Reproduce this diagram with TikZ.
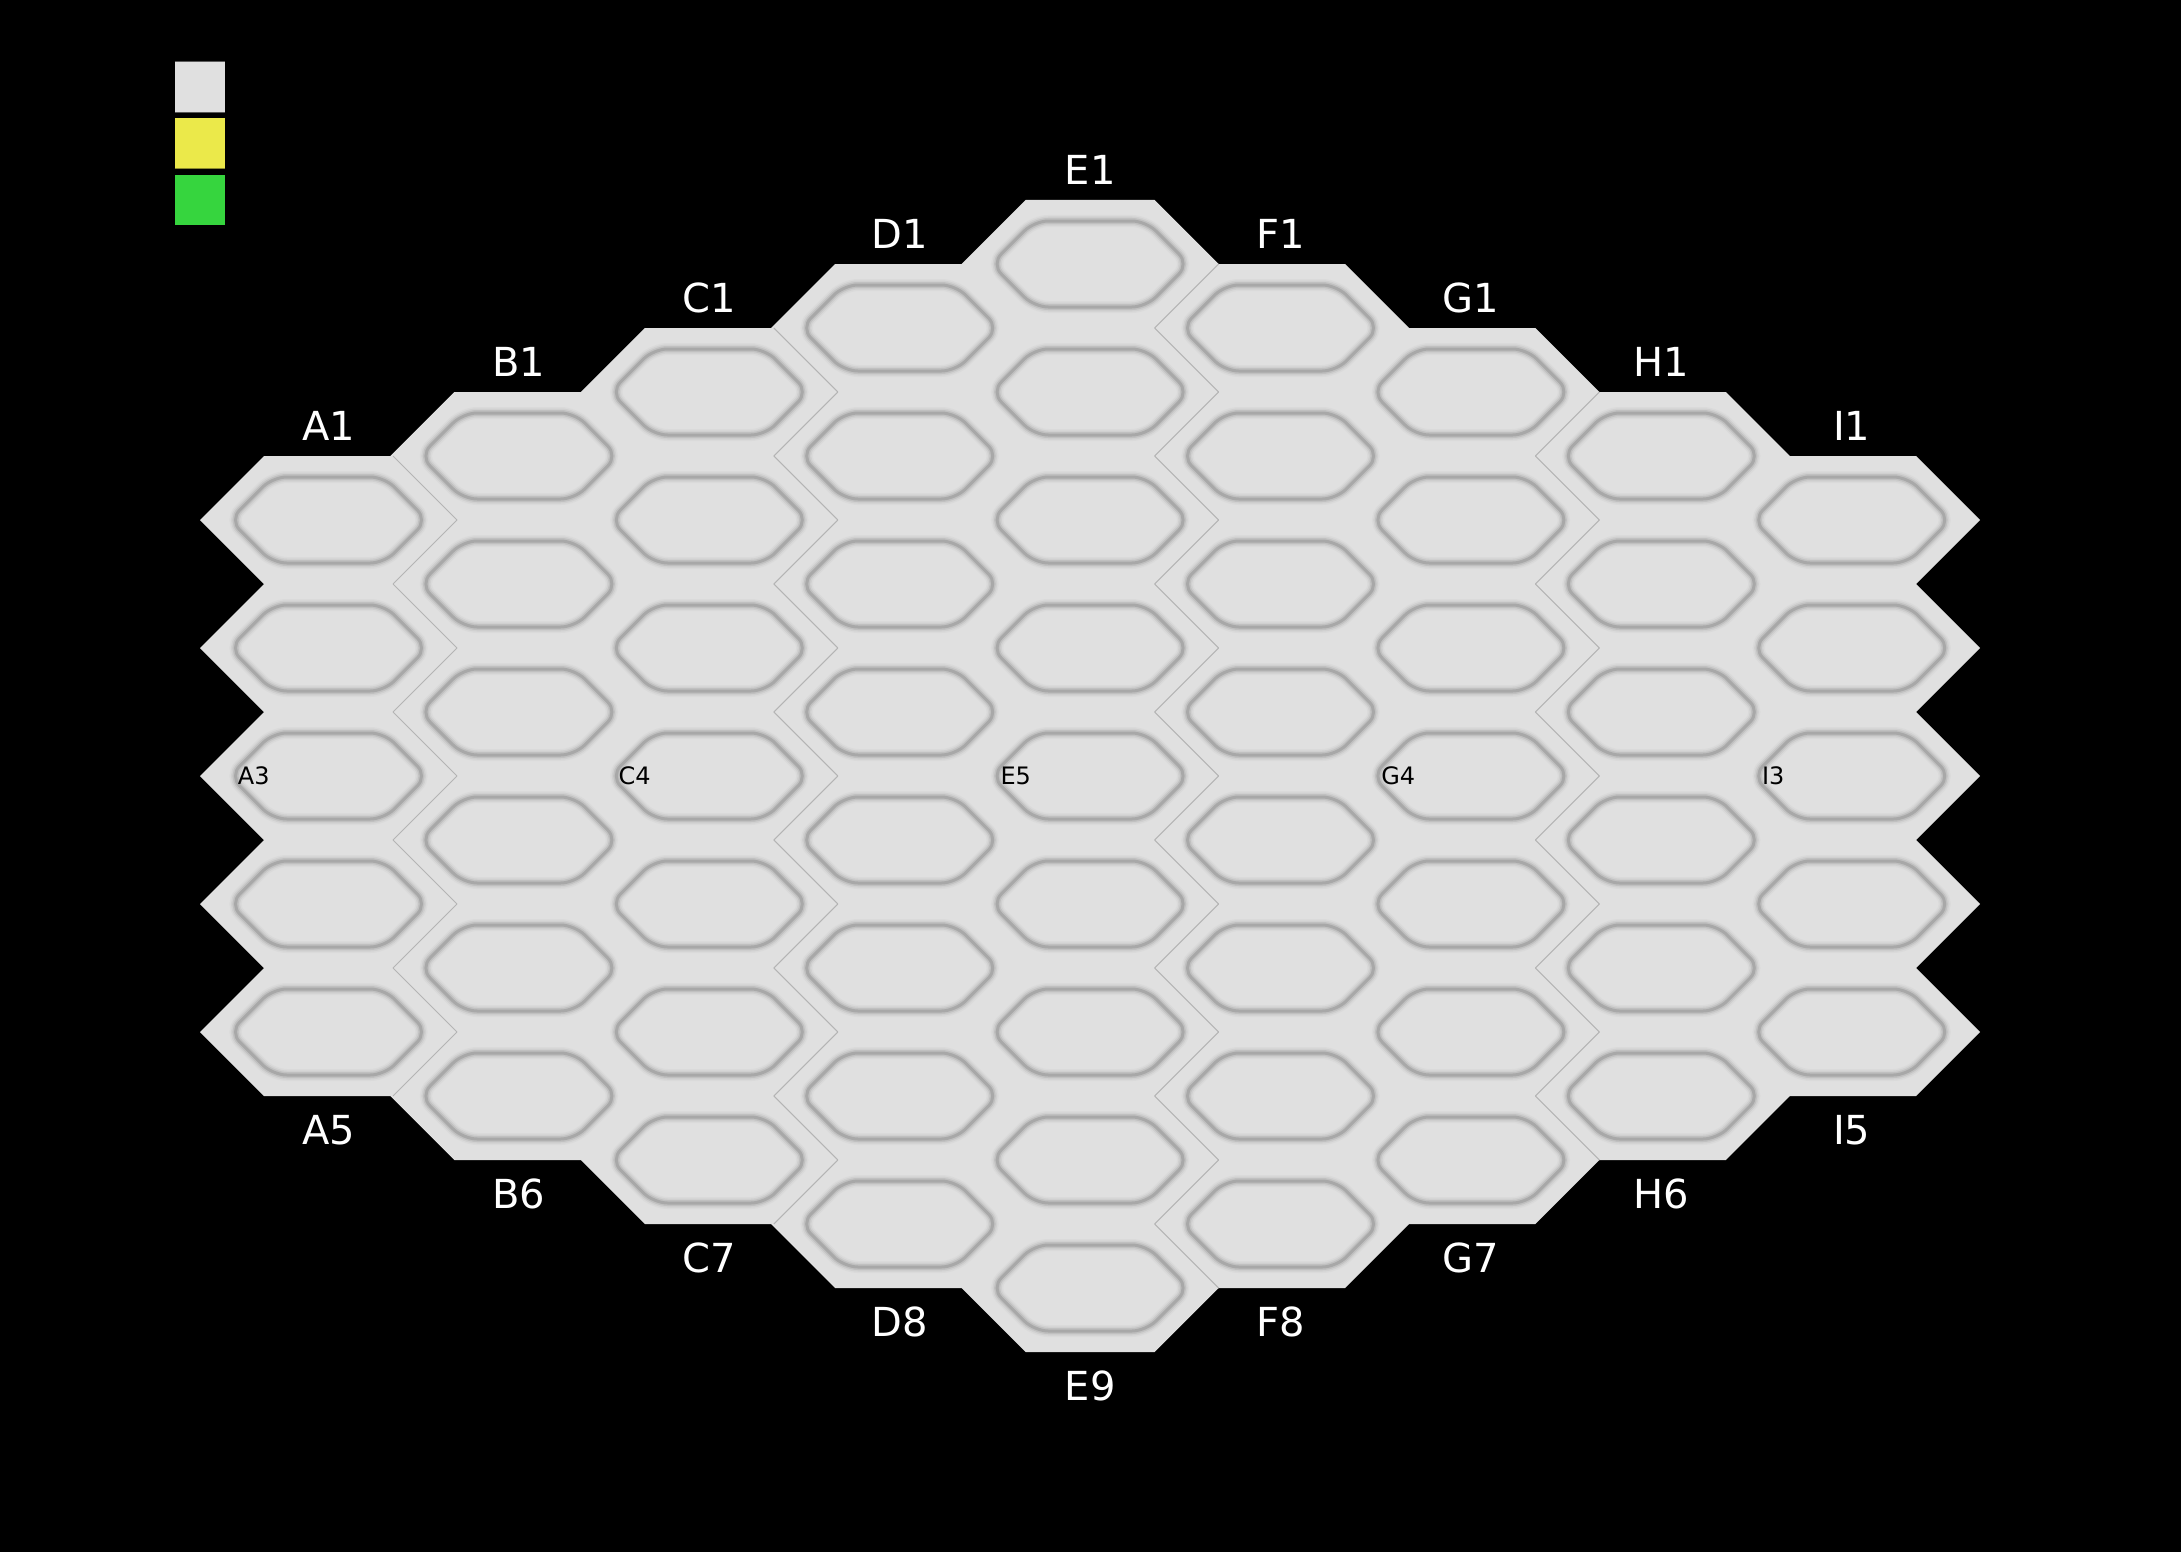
\documentclass[tikz,border=0pt]{standalone}
\usepackage{fontspec}
\setmainfont{DejaVu Sans}
\definecolor{hexfill}{HTML}{E0E0E0}
\definecolor{ring0}{HTML}{DADADA}
\definecolor{ringA}{HTML}{D0D0D0}
\definecolor{ringB}{HTML}{C0C0C0}
\definecolor{ringC}{HTML}{A8A8A8}
\definecolor{seam}{HTML}{B4B4B4}
\definecolor{leggray}{HTML}{E0E0E0}
\definecolor{legyellow}{HTML}{EBE94A}
\definecolor{leggreen}{HTML}{36D53E}
\tikzset{
  biglabel/.style={text=white, inner sep=0pt, font=\fontsize{20}{20}\selectfont},
  smalllabel/.style={text=black, inner sep=0pt, anchor=west, font=\fontsize{12}{12}\selectfont},
  legendbox/.style={minimum width=25pt, minimum height=25pt, inner sep=0pt, draw=none},
  seamline/.style={draw=seam, line width=0.5pt},
}
\begin{document}
\begin{tikzpicture}[x=0.5pt,y=-0.5pt]
\fill[black] (0,0) rectangle (2181,1552);
\useasboundingbox (0,0) rectangle (2181,1552);
% legend
\node[legendbox, fill=leggray] (leg1) at (200,87) {};
\node[legendbox, fill=legyellow] (leg2) at (200,143.3) {};
\node[legendbox, fill=leggreen] (leg3) at (200,200) {};
\draw[gray!70!black, line width=0.5pt] (leg1.north west) -- (leg1.north east);
\draw[gray!70!black, line width=0.5pt] (leg1.south west) -- (leg1.south east);
\draw[legyellow!60!black, line width=0.4pt] (leg2.south west) -- (leg2.south east);
% hexes
\foreach \i/\L in {0/A,1/B,2/C,3/D,4/E,5/F,6/G,7/H,8/I} {
  \pgfmathsetmacro\cx{328.5+190.4*\i}
  \pgfmathtruncatemacro\n{9-abs(\i-4)}
  \pgfmathsetmacro\colTop{776-64*\n}
  \foreach \j in {1,...,\n} {
    \pgfmathsetmacro\cy{\colTop+64+128*(\j-1)}
    \fill[hexfill] ({\cx-64.5},{\cy-64}) -- ({\cx+64.5},{\cy-64}) -- ({\cx+128.5},\cy)
      -- ({\cx+64.5},{\cy+64}) -- ({\cx-64.5},{\cy+64}) -- ({\cx-128.5},\cy) -- cycle;
    \foreach \w/\c in {12/ring0,9/ringA,6/ringB,3/ringC} {
      \draw[\c, line width=\w*0.5pt, rounded corners=7pt]
        ({\cx-55.8},{\cy-43}) -- ({\cx+55.8},{\cy-43}) -- ({\cx+98.8},\cy)
        -- ({\cx+55.8},{\cy+43}) -- ({\cx-55.8},{\cy+43}) -- ({\cx-98.8},\cy) -- cycle;
    }
  }
  \node[biglabel] (top\L) at (\cx,{\colTop-30}) {\L1};
  \node[biglabel] (bot\L) at (\cx,{\colTop+128*\n+34}) {\L\n};
}
% seams on the right side of columns A, C, E, G
\foreach \i in {0,2,4,6} {
  \pgfmathsetmacro\cx{328.5+190.4*\i}
  \pgfmathtruncatemacro\n{9-abs(\i-4)}
  \pgfmathsetmacro\colTop{776-64*\n}
  \foreach \j in {1,...,\n} {
    \pgfmathsetmacro\cy{\colTop+64+128*(\j-1)}
    \pgfmathtruncatemacro\skipUp{(\j==1)&&(\i>3)}
    \pgfmathtruncatemacro\skipDown{(\j==\n)&&(\i>3)}
    \ifnum\skipUp=0
      \draw[seamline] ({\cx+64.5},{\cy-64}) -- ({\cx+128.5},\cy);
    \fi
    \ifnum\skipDown=0
      \draw[seamline] ({\cx+128.5},\cy) -- ({\cx+64.5},{\cy+64});
    \fi
  }
}
% small labels in the middle row
\node[smalllabel] (lA3) at (237.5,776) {A3};
\node[smalllabel] (lC4) at (618.3,776) {C4};
\node[smalllabel] (lE5) at (1000.1,776) {E5};
\node[smalllabel] (lG4) at (1380.9,776) {G4};
\node[smalllabel] (lI3) at (1761.7,776) {I3};
\end{tikzpicture}
\end{document}
